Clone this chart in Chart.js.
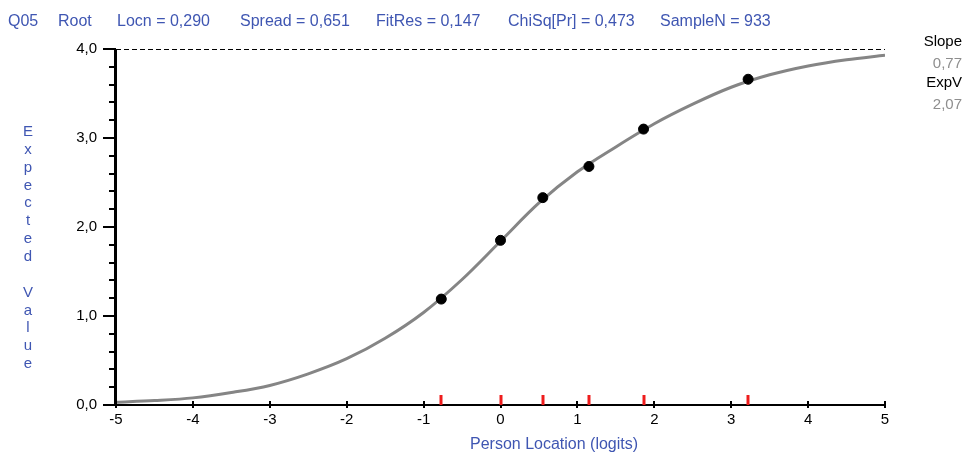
<!DOCTYPE html>
<html>
<head>
<meta charset="utf-8">
<script src="https://cdn.jsdelivr.net/npm/chart.js@4.4.1/dist/chart.umd.min.js"></script>
<style>
html,body{margin:0;padding:0;background:#fff;}
#wrap{position:relative;width:966px;height:453px;}
</style>
</head>
<body>
<div id="wrap"><canvas id="c"></canvas></div>
<script>
// ---- data ----
const curveX = [-5,-4.5,-4,-3.5,-3,-2.5,-2,-1.5,-1,-0.5,0,0.5,1,1.5,2,2.5,3,3.5,4,4.5,5];
const curveY = [0.03,0.05,0.08,0.14,0.22,0.35,0.52,0.75,1.04,1.41,1.84,2.27,2.62,2.9,3.16,3.38,3.57,3.71,3.81,3.88,3.93];
const pointsX = [-0.77,0,0.55,1.15,1.86,3.22];
const pointsY = [1.19,1.85,2.33,2.68,3.10,3.66];
const headerItems = ["Q05","Root","Locn = 0,290","Spread = 0,651","FitRes = 0,147","ChiSq[Pr] = 0,473","SampleN = 933"];
const sideLabels = ["Slope","ExpV"];
const sideValues = ["0,77","2,07"];
const yTitle = "Expected Value";
const xTitle = "Person Location (logits)";
const maxScore = 4;

// ---- layout / style ----
const headerX = [8,58,117,240,376,508,660];
const BLUE = "#3f56b2";
const FONT = "Liberation Sans, Arial, sans-serif";

const decor = {
  id: "decor",
  beforeDatasetsDraw(chart) {
    const ctx = chart.ctx, y = chart.scales.y, ca = chart.chartArea;
    ctx.save();
    ctx.strokeStyle = "#000"; ctx.lineWidth = 1; ctx.setLineDash([5,3]);
    const ym = Math.round(y.getPixelForValue(maxScore)) + 0.5;
    ctx.beginPath(); ctx.moveTo(ca.left, ym); ctx.lineTo(ca.right, ym); ctx.stroke();
    ctx.setLineDash([]);
    ctx.restore();
  },
  afterDraw(chart) {
    const ctx = chart.ctx, x = chart.scales.x, y = chart.scales.y, ca = chart.chartArea;
    ctx.save();
    ctx.strokeStyle = "#000";
    ctx.lineWidth = 3;
    ctx.beginPath(); ctx.moveTo(ca.left - 0.5, ca.top); ctx.lineTo(ca.left - 0.5, ca.bottom); ctx.stroke();
    ctx.lineWidth = 2;
    for (let v = 0; v <= maxScore + 1e-9; v += 0.2) {
      const py = Math.round(y.getPixelForValue(v));
      const major = Math.abs(v - Math.round(v)) < 1e-6;
      ctx.beginPath(); ctx.moveTo(ca.left - (major ? 13 : 7), py); ctx.lineTo(ca.left, py); ctx.stroke();
    }
    ctx.lineWidth = 2;
    ctx.beginPath(); ctx.moveTo(ca.left - 13, ca.bottom); ctx.lineTo(ca.right, ca.bottom); ctx.stroke();
    for (let v = x.min; v <= x.max; v++) {
      const px = Math.round(x.getPixelForValue(v));
      ctx.beginPath(); ctx.moveTo(px, ca.bottom - 4); ctx.lineTo(px, ca.bottom + 3); ctx.stroke();
    }
    ctx.strokeStyle = "#ee1c1c"; ctx.lineWidth = 3;
    pointsX.forEach(v => {
      const px = Math.round(x.getPixelForValue(v));
      ctx.beginPath(); ctx.moveTo(px, ca.bottom - 10); ctx.lineTo(px, ca.bottom); ctx.stroke();
    });
    ctx.fillStyle = BLUE; ctx.font = "16px " + FONT; ctx.textBaseline = "alphabetic"; ctx.textAlign = "left";
    headerItems.forEach((t, i) => ctx.fillText(t, headerX[i], 26));
    ctx.fillText(xTitle, 470, 449);
    ctx.font = "15px " + FONT; ctx.textAlign = "center";
    [...yTitle].forEach((ch, i) => ctx.fillText(ch, 28, 136 + i * 17.85));
    ctx.textAlign = "right"; ctx.font = "15px " + FONT;
    sideLabels.forEach((t, i) => {
      ctx.fillStyle = "#000"; ctx.fillText(t, 962, 46 + i * 41);
      ctx.fillStyle = "#8e8e8e"; ctx.fillText(sideValues[i], 962, 68 + i * 41);
    });
    ctx.restore();
  }
};

new Chart(document.getElementById("c"), {
  type: "scatter",
  data: {
    datasets: [
      {
        data: pointsX.map((v, i) => ({x: v, y: pointsY[i]})),
        backgroundColor: "#000", borderColor: "#000",
        pointRadius: 5, pointHoverRadius: 5, showLine: false, order: 0
      },
      {
        data: curveX.map((v, i) => ({x: v, y: curveY[i]})),
        borderColor: "#858585", borderWidth: 3, pointRadius: 0,
        showLine: true, cubicInterpolationMode: "monotone", order: 1
      }
    ]
  },
  options: {
    responsive: true, maintainAspectRatio: false, animation: false,
    layout: {padding: {top: 49, right: 81, left: 0, bottom: 0}},
    plugins: {legend: {display: false}, tooltip: {enabled: false}},
    scales: {
      x: {
        type: "linear", min: -5, max: 5,
        grid: {display: false, drawTicks: false}, border: {display: false},
        ticks: {stepSize: 1, padding: 6, color: "#000", font: {family: FONT, size: 15},
                callback: v => String(v)},
        afterFit: s => { s.height = 48; }
      },
      y: {
        type: "linear", min: 0, max: maxScore,
        grid: {display: false, drawTicks: false}, border: {display: false},
        ticks: {stepSize: 1, padding: 19, color: "#000", font: {family: FONT, size: 15},
                callback: v => v.toFixed(1).replace(".", ",")},
        afterFit: s => { s.width = 116; }
      }
    }
  },
  plugins: [decor]
});
</script>
</body>
</html>
